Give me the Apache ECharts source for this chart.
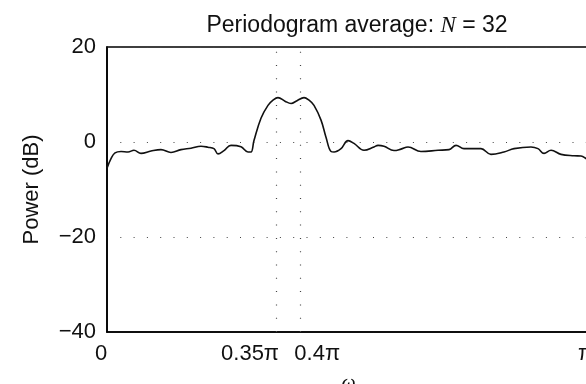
<!DOCTYPE html>
<html>
<head>
<meta charset="utf-8">
<script src="https://cdn.jsdelivr.net/npm/echarts@6/dist/echarts.min.js"></script>
<style>
  html, body { margin: 0; padding: 0; background: #fff; }
  #main { width: 586px; height: 384px; }
</style>
</head>
<body>
<div id="main"></div>
<script>
// frequency in units of pi, power in dB
var omega = [0, 0.0083, 0.0166, 0.029, 0.0435, 0.0559, 0.0704, 0.0911, 0.1118, 0.1325,
  0.1532, 0.1739, 0.1946, 0.2091, 0.2215, 0.2298, 0.2422, 0.2567, 0.2774, 0.2919,
  0.2981, 0.3043, 0.3188, 0.3333, 0.3437, 0.354, 0.3685, 0.381, 0.3934, 0.4079,
  0.4182, 0.4286, 0.4431, 0.4534, 0.4638, 0.47, 0.4845, 0.499, 0.5114, 0.5321,
  0.5528, 0.5611, 0.5735, 0.5942, 0.6087, 0.6232, 0.6501, 0.6853, 0.7081, 0.7226,
  0.7391, 0.7598, 0.7743, 0.795, 0.8219, 0.8427, 0.8778, 0.8923, 0.9048, 0.9193,
  0.94, 0.9669, 0.9814, 0.9938, 1.0];
var power = [-5.5, -3.5, -2.3, -2.0, -2.1, -1.75, -2.4, -1.9, -1.6, -2.2,
  -1.6, -1.3, -0.9, -1.1, -1.4, -2.5, -1.8, -0.7, -1.0, -2.1,
  -2.1, 0.3, 5.0, 7.7, 8.8, 9.35, 8.6, 8.1, 8.7, 9.35,
  8.8, 7.7, 4.6, 1.0, -2.0, -2.1, -1.4, 0.3, -0.3, -1.75,
  -1.05, -0.7, -0.9, -1.8, -1.5, -1.05, -2.0, -1.75, -1.6, -0.7,
  -1.4, -1.4, -1.4, -2.6, -2.1, -1.4, -1.05, -1.4, -2.4, -1.75,
  -2.6, -2.9, -2.95, -3.6, -3.8];

var xTicks = [0, 0.35, 0.4, 1];
var xTickText = ['0', '0.35π', '0.4π', 'π'];
var markFreqs = [0.35, 0.4];

var points = omega.map(function (w, i) { return [w, power[i]]; });

var chart = echarts.init(document.getElementById('main'));
var dots = [1, 12.3];
var fs = 22;

chart.setOption({
  animation: false,
  title: {
    text: 'Periodogram average: {i|N} = 32',
    left: 352,
    textAlign: 'center',
    top: 9,
    textStyle: {
      fontFamily: 'Liberation Sans',
      fontSize: 23,
      fontWeight: 'normal',
      color: '#111',
      rich: {
        i: { fontFamily: 'Liberation Serif', fontStyle: 'italic', fontSize: 23, color: '#111' }
      }
    }
  },
  grid: {
    left: 107, right: -4, top: 47, bottom: 52,
    outerBoundsMode: 'none',
    containLabel: false,
    show: true, borderColor: '#000', borderWidth: 1.6, backgroundColor: 'transparent'
  },
  xAxis: {
    type: 'value',
    min: 0, max: 1,
    name: 'ω',
    nameLocation: 'middle',
    nameGap: 42,
    nameTextStyle: { fontFamily: 'Liberation Serif', fontStyle: 'italic', fontSize: 20, color: '#111' },
    axisLine: { onZero: false, lineStyle: { color: '#000', width: 1.6 } },
    axisTick: { show: false },
    splitLine: { show: false },
    axisLabel: {
      customValues: xTicks,
      margin: 11,
      fontFamily: 'Liberation Sans',
      fontSize: fs,
      color: '#111',
      formatter: function (v) {
        var idx = xTicks.indexOf(v);
        var key = ['a', 'b', 'c', 'd'][idx];
        return '{' + key + '|' + xTickText[idx] + '}';
      },
      rich: {
        a: { fontSize: fs, padding: [0, 12, 0, 0] },
        b: { fontSize: fs, padding: [0, 52, 0, 0] },
        c: { fontSize: fs, padding: [0, 0, 0, 34] },
        d: { fontSize: fs, padding: [0, 9, 0, 0] }
      }
    }
  },
  yAxis: {
    type: 'value',
    min: -40, max: 20, interval: 20,
    name: 'Power (dB)',
    nameLocation: 'middle',
    nameGap: 64,
    nameTextStyle: { fontFamily: 'Liberation Sans', fontSize: fs, color: '#111' },
    axisLine: { show: true, lineStyle: { color: '#000', width: 1.6 } },
    axisTick: { show: false },
    axisLabel: {
      margin: 11,
      fontFamily: 'Liberation Sans',
      fontSize: fs,
      color: '#111',
      formatter: function (v) { return String(v).replace('-', '\u2212'); }
    },
    splitLine: { show: true, lineStyle: { color: '#444', width: 1.2, type: dots } }
  },
  series: [{
    type: 'line',
    data: points,
    smooth: 0.4,
    showSymbol: false,
    silent: true,
    lineStyle: { color: '#111', width: 1.6 },
    markLine: {
      silent: true,
      symbol: 'none',
      label: { show: false },
      lineStyle: { color: '#444', width: 1.2, type: dots },
      data: markFreqs.map(function (f) { return { xAxis: f }; })
    }
  }]
});
</script>
</body>
</html>
